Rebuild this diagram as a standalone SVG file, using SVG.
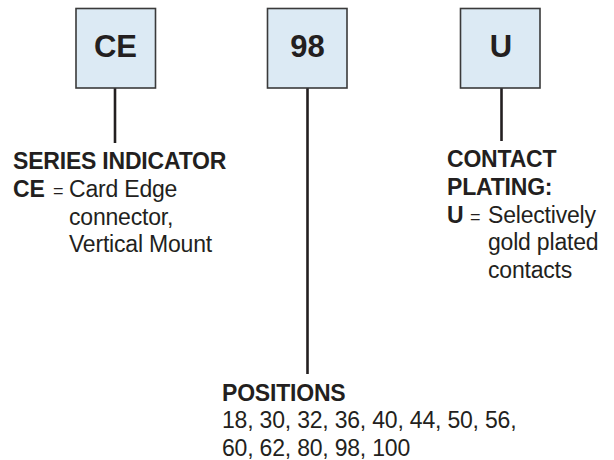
<svg xmlns="http://www.w3.org/2000/svg" width="614" height="460" viewBox="0 0 614 460">
<style>
.box{fill:#dceaf4;stroke:#3a3a3a;stroke-width:1.6}
.bl{font-family:"Liberation Sans",Arial,sans-serif;font-weight:bold;font-size:31px;fill:#231f20;text-anchor:middle}
.t{font-family:"Liberation Sans",Arial,sans-serif;font-size:23px;letter-spacing:-0.2px;fill:#231f20}
.b{font-weight:bold}
.eq{font-size:18px}
.ln{stroke:#231f20;stroke-width:2.6;fill:none}
</style>
<rect width="614" height="460" fill="#ffffff"/>
<g id="connectors">
<line class="ln" x1="115" y1="88" x2="115" y2="143"/>
<line class="ln" x1="307.5" y1="88" x2="307.5" y2="374"/>
<line class="ln" x1="501.5" y1="88" x2="501.5" y2="141"/>
</g>
<g id="node-ce">
<rect class="box" x="76" y="8.5" width="79.5" height="79.5"/>
<text class="bl" x="115.5" y="57">CE</text>
</g>
<g id="node-98">
<rect class="box" x="267.5" y="8.5" width="79.5" height="79.5"/>
<text class="bl" x="307.5" y="57">98</text>
</g>
<g id="node-u">
<rect class="box" x="460.5" y="8.5" width="79.5" height="79.5"/>
<text class="bl" x="501" y="57">U</text>
</g>
<g id="label-series">
<text class="t b" x="13" y="169">SERIES INDICATOR</text>
<text class="t b" x="13" y="197">CE</text>
<text class="t eq" x="53" y="197">=</text>
<text class="t" x="69" y="197">Card Edge</text>
<text class="t" x="69" y="224.5">connector,</text>
<text class="t" x="69" y="252">Vertical Mount</text>
</g>
<g id="label-plating">
<text class="t b" x="447" y="167">CONTACT</text>
<text class="t b" x="447" y="195">PLATING:</text>
<text class="t b" x="447" y="223">U</text>
<text class="t eq" x="470" y="223">=</text>
<text class="t" x="488" y="223">Selectively</text>
<text class="t" x="488" y="250">gold plated</text>
<text class="t" x="488" y="277.5">contacts</text>
</g>
<g id="label-positions">
<text class="t b" x="222" y="400.5">POSITIONS</text>
<text class="t" x="222" y="428">18, 30, 32, 36, 40, 44, 50, 56,</text>
<text class="t" x="222" y="455.5">60, 62, 80, 98, 100</text>
</g>
</svg>
